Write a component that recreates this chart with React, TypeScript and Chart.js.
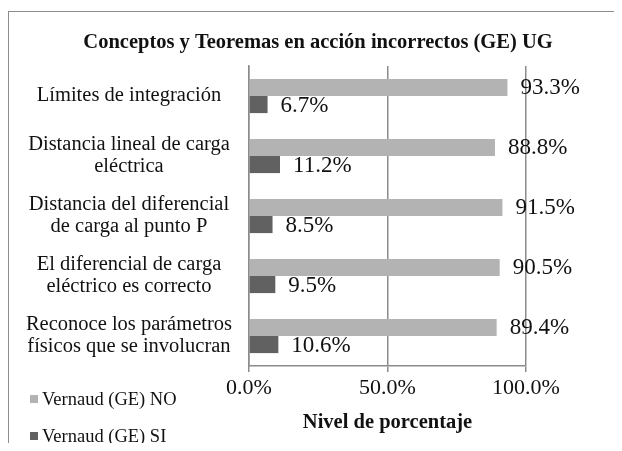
import React, { useEffect, useRef } from 'react';
import { Chart, registerables } from 'chart.js';

Chart.register(...registerables);

const FONT = '"Liberation Serif", "Times New Roman", Times, serif';

const chartTitle = 'Conceptos y Teoremas en acción incorrectos (GE) UG';
const categories: (string | string[])[] = [
  'Límites de integración',
  ['Distancia lineal de carga', 'eléctrica'],
  ['Distancia del diferencial', 'de carga al punto P'],
  ['El diferencial de carga', 'eléctrico es correcto'],
  ['Reconoce los parámetros', 'físicos que se involucran'],
];
const seriesNames = ['Vernaud (GE) NO', 'Vernaud (GE) SI'];
const noValues = [93.3, 88.8, 91.5, 90.5, 89.4];
const siValues = [6.7, 11.2, 8.5, 9.5, 10.6];
const xTicks = [0, 50, 100];
const xAxisTitle = 'Nivel de porcentaje';

const TEXT = '#111111';
const LINE = '#8c8c8c';

const valueLabels = {
  id: 'valueLabels',
  afterDatasetsDraw(chart: any) {
    const ctx = chart.ctx;
    ctx.save();
    ctx.font = `23px ${FONT}`;
    ctx.fillStyle = TEXT;
    ctx.textAlign = 'left';
    ctx.textBaseline = 'middle';
    chart.data.datasets.forEach((ds: any, i: number) => {
      const meta = chart.getDatasetMeta(i);
      meta.data.forEach((el: any, j: number) => {
        const v = ds.data[j] as number;
        ctx.fillText(v.toFixed(1) + '%', el.x + 13, el.y + 1);
      });
    });
    ctx.restore();
  },
};

const decor = {
  id: 'decor',
  afterDraw(chart: any) {
    const ctx = chart.ctx;
    ctx.save();
    ctx.fillStyle = TEXT;
    ctx.font = `bold 20.5px ${FONT}`;
    ctx.textAlign = 'center';
    ctx.textBaseline = 'middle';
    ctx.fillText(chartTitle, 309, 31);
    ctx.font = `18.5px ${FONT}`;
    ctx.textAlign = 'left';
    const ys = [387, 424];
    chart.data.datasets.forEach((ds: any, i: number) => {
      ctx.fillStyle = ds.backgroundColor;
      ctx.fillRect(21, ys[i] - 4, 8, 8);
      ctx.fillStyle = TEXT;
      ctx.fillText(ds.label, 33, ys[i] + 1);
    });
    ctx.restore();
  },
};

export default function App() {
  const ref = useRef<HTMLCanvasElement | null>(null);
  useEffect(() => {
    if (!ref.current) return;
    const chart = new Chart(ref.current, {
      type: 'bar',
      data: {
        labels: categories as any,
        datasets: [
          {
            label: seriesNames[0],
            data: noValues,
            backgroundColor: '#b3b3b3',
            barPercentage: 1,
            categoryPercentage: 0.57,
          },
          {
            label: seriesNames[1],
            data: siValues,
            backgroundColor: '#616161',
            barPercentage: 1,
            categoryPercentage: 0.57,
          },
        ],
      },
      options: {
        indexAxis: 'y',
        animation: false,
        responsive: false,
        maintainAspectRatio: false,
        layout: { padding: { top: 54, right: 88, bottom: 0, left: 0 } },
        plugins: {
          legend: { display: false },
          title: { display: false },
          tooltip: { enabled: false },
        },
        scales: {
          x: {
            type: 'linear',
            min: 0,
            max: 100,
            afterBuildTicks: (s: any) => {
              s.ticks = xTicks.map((v) => ({ value: v }));
            },
            afterFit: (s: any) => {
              s.height = 77;
            },
            grid: { color: LINE, lineWidth: 1.5, tickLength: 6, drawTicks: true },
            border: { display: true, color: LINE, width: 1.5 },
            ticks: {
              padding: 3,
              color: TEXT,
              maxRotation: 0,
              font: { size: 22, family: FONT },
              callback: (v: any) => Number(v).toFixed(1) + '%',
            },
            title: {
              display: true,
              text: xAxisTitle,
              color: TEXT,
              font: { size: 20.5, weight: 'bold', family: FONT },
              padding: { top: 0, bottom: 8 },
            },
          },
          y: {
            type: 'category',
            afterFit: (s: any) => {
              s.width = 240;
            },
            grid: { display: false, drawTicks: false },
            border: { display: true, color: LINE, width: 1.5 },
            ticks: {
              padding: 17,
              crossAlign: 'center',
              color: TEXT,
              font: { size: 20.5, family: FONT, lineHeight: 1.07 },
            },
          },
        },
      } as any,
      plugins: [valueLabels, decor],
    });
    return () => chart.destroy();
  }, []);

  return (
    <div style={{ paddingTop: 3, height: 432 }}>
      <div
        style={{
          width: 614,
          height: 440,
          borderTop: `1px solid ${LINE}`,
          borderLeft: `1px solid ${LINE}`,
          boxSizing: 'border-box',
        }}
      >
        <canvas ref={ref} width={605} height={431} style={{ display: 'block' }} />
      </div>
    </div>
  );
}
